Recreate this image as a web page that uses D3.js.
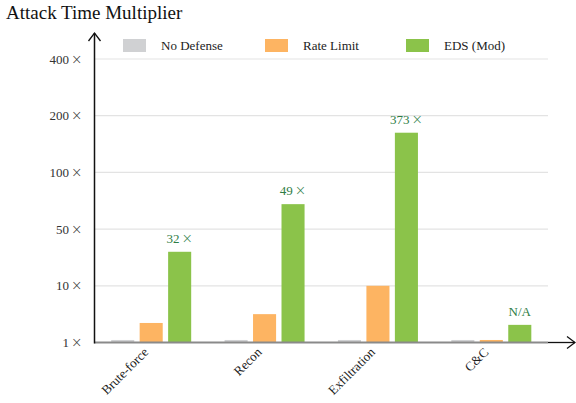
<!DOCTYPE html>
<html>
<head>
<meta charset="utf-8">
<script src="https://cdn.jsdelivr.net/npm/d3@7"></script>
<style>
  body { margin: 0; background: #fff; }
  svg { font-family: "Liberation Serif", "DejaVu Serif", serif; }
</style>
</head>
<body>
<svg width="576" height="403"></svg>
<script>
// chart data
const categories = ['Brute-force', 'Recon', 'Exfiltration', 'C&C'];
const series = ['No Defense', 'Rate Limit', 'EDS (Mod)'];
const noDefense = [1.4, 1.4, 1.4, 1.4];
const rateLimit = [4.1, 5.5, 10, 1.4];
const edsMod = [34, 72, 170, 3.8];
const edsLabels = ['32', '49', '373', 'N/A'];
const yTicks = [1, 10, 50, 100, 200, 400];
const colors = ['#d0d1d3', '#fdb462', '#8bc34a'];

const values = [noDefense, rateLimit, edsMod];

const svg = d3.select('svg');

// writes "n ×" with a bigger math-like times sign
const withTimes = function (sel, num) {
  sel.text(null);
  sel.append('tspan').text(num);
  sel.append('tspan')
    .attr('dx', 2)
    .attr('font-family', '"DejaVu Sans", sans-serif')
    .attr('font-weight', 200)
    .attr('font-size', '1.05em')
    .text('×');
};

// y is piecewise: equal spacing between the labelled ticks
const scaleY = d3.scaleLinear()
  .domain(yTicks)
  .range(yTicks.map((d, i) => 342.5 - i * 56.7));

const scaleX = d3.scaleBand()
  .domain(categories)
  .range([94.5, 548])
  .padding(0);

const scaleInner = d3.scaleBand()
  .domain(series)
  .range([0, 80])
  .paddingInner(0.19)
  .paddingOuter(0);

// title
svg.append('text')
  .attr('x', 6)
  .attr('y', 19)
  .attr('font-size', 19)
  .attr('fill', '#111')
  .text('Attack Time Multiplier');

// gridlines + y labels
const axisY = d3.axisLeft(scaleY)
  .tickValues(yTicks)
  .tickSize(0)
  .tickPadding(12);

const axisYGroup = svg.append('g')
  .attr('transform', 'translate(94.5, 0)')
  .call(axisY);
axisYGroup.select('.domain').remove();
axisYGroup.selectAll('text')
  .attr('font-family', '"Liberation Serif", serif')
  .attr('font-size', 13)
  .attr('fill', '#333')
  .each(function (d) { withTimes(d3.select(this), d); });

svg.append('g')
  .selectAll('line')
  .data(yTicks.slice(1))
  .join('line')
  .attr('x1', 94.5)
  .attr('x2', 548)
  .attr('y1', d => scaleY(d))
  .attr('y2', d => scaleY(d))
  .attr('stroke', '#e3e3e3')
  .attr('stroke-width', 1.2);

// bars
const groups = svg.append('g')
  .selectAll('g.group')
  .data(categories)
  .join('g')
  .attr('class', 'group')
  .attr('transform', d => `translate(${scaleX(d) + scaleX.bandwidth() / 2 - 40}, 0)`);

groups.selectAll('rect')
  .data((d, ci) => series.map((s, si) => ({ s, si, v: values[si][ci] })))
  .join('rect')
  .attr('x', d => scaleInner(d.s))
  .attr('width', scaleInner.bandwidth())
  .attr('y', d => scaleY(d.v))
  .attr('height', d => scaleY(1) - scaleY(d.v))
  .attr('fill', d => colors[d.si]);

// value labels over EDS bars
groups.append('text')
  .attr('x', scaleInner('EDS (Mod)') + scaleInner.bandwidth() / 2)
  .attr('y', (d, i) => scaleY(edsMod[i]) - 9)
  .attr('text-anchor', 'middle')
  .attr('font-size', 13)
  .attr('fill', '#2e7d45')
  .each(function (d, i) {
    if (edsLabels[i] === 'N/A') d3.select(this).text('N/A');
    else withTimes(d3.select(this), edsLabels[i]);
  });

// baseline
svg.append('line')
  .attr('x1', 94.5)
  .attr('x2', 548)
  .attr('y1', scaleY(1))
  .attr('y2', scaleY(1))
  .attr('stroke', '#8a8a8a')
  .attr('stroke-width', 2);

// axes with arrows
svg.append('line')
  .attr('x1', 548).attr('x2', 575)
  .attr('y1', scaleY(1)).attr('y2', scaleY(1))
  .attr('stroke', '#111').attr('stroke-width', 1.3);
svg.append('path')
  .attr('d', `M567,${scaleY(1) - 6} L575,${scaleY(1)} L567,${scaleY(1) + 6}`)
  .attr('fill', 'none').attr('stroke', '#111').attr('stroke-width', 1.3);

svg.append('line')
  .attr('x1', 94.5).attr('x2', 94.5)
  .attr('y1', scaleY(1) + 1).attr('y2', 33)
  .attr('stroke', '#111').attr('stroke-width', 1.5);
svg.append('path')
  .attr('d', 'M88.5,41 L94.5,33 L100.5,41')
  .attr('fill', 'none').attr('stroke', '#111').attr('stroke-width', 1.3);

// x labels, rotated
svg.append('g')
  .selectAll('text')
  .data(categories)
  .join('text')
  .attr('transform', d => `translate(${scaleX(d) + scaleX.bandwidth() / 2 - 2}, 353) rotate(-45)`)
  .attr('text-anchor', 'end')
  .attr('font-size', 13)
  .attr('fill', '#222')
  .text(d => d);

// legend
const legend = svg.append('g')
  .selectAll('g')
  .data(series)
  .join('g')
  .attr('transform', (d, i) => `translate(${[123, 265, 406][i]}, 39)`);

legend.append('rect')
  .attr('width', 23)
  .attr('height', 13)
  .attr('fill', (d, i) => colors[i]);

legend.append('text')
  .attr('x', 38)
  .attr('y', 11)
  .attr('font-size', 13)
  .attr('fill', '#222')
  .text(d => d);
</script>
</body>
</html>
